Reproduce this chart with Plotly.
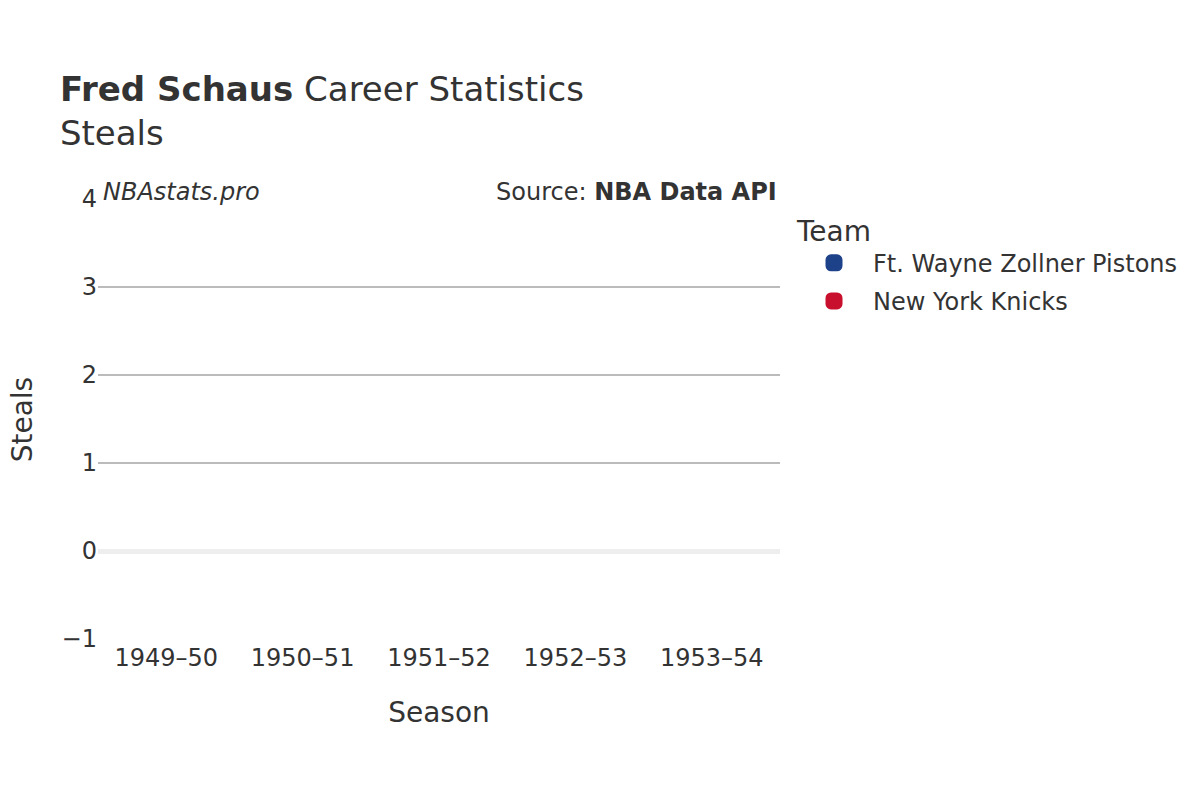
import plotly.graph_objects as go

seasons = ['1949–50', '1950–51', '1951–52', '1952–53', '1953–54']
teams = ['Ft. Wayne Zollner Pistons', 'New York Knicks']
team_colors = ['#1D428A', '#C8102E']
# steals were not tracked in these seasons, so nothing to plot
pistons_steals = [None, None, None, None, None]
knicks_steals = [None, None, None, None, None]

font = 'DejaVu Sans'

fig = go.Figure()
fig.add_trace(go.Bar(x=seasons, y=pistons_steals, name=teams[0], legendgroup='a',
                     marker=dict(color=team_colors[0], cornerradius=6,
                                 line=dict(color=team_colors[0], width=10))))
fig.add_trace(go.Bar(x=seasons, y=knicks_steals, name=teams[1], legendgroup='b',
                     marker=dict(color=team_colors[1], cornerradius=6,
                                 line=dict(color=team_colors[1], width=10))))

fig.update_layout(
    width=1200, height=800,
    paper_bgcolor='white', plot_bgcolor='white',
    font=dict(family=font, color='#333333', size=24),
    title=dict(text='<b>Fred Schaus</b> Career Statistics<br>Steals',
               x=0.0433, xanchor='left', y=0.884, yanchor='top',
               font=dict(size=34, color='#333333')),
    margin=dict(l=90, r=428, t=191, b=169),
    showlegend=True,
    legend=dict(title=dict(text='Team', font=dict(size=28)),
                font=dict(size=24), x=1.022, y=0.988, yanchor='top',
                itemwidth=68, tracegroupgap=4, traceorder='grouped'),
    xaxis=dict(title=dict(text='Season', font=dict(size=28), standoff=31),
               type='category', categoryorder='array', categoryarray=seasons,
               showgrid=False, ticks='', tickfont=dict(size=24),
               ticklabelstandoff=2, automargin=False),
    yaxis=dict(range=[-1, 4], dtick=1, showgrid=True, gridcolor='#bbbbbb',
               gridwidth=2, zeroline=True, zerolinecolor='#eeeeee',
               zerolinewidth=5, tickfont=dict(size=24), automargin=False),
)

# y axis title as an annotation so it can sit further left than plotly allows
fig.add_annotation(text='Steals', xref='paper', yref='paper',
                   x=-0.111, y=0.5, xanchor='center', yanchor='middle',
                   textangle=-90, showarrow=False,
                   font=dict(size=28, color='#333333'))
fig.add_annotation(text='<i>NBAstats.pro</i>', xref='paper', yref='paper',
                   x=0.005, y=1.016, xanchor='left', yanchor='middle',
                   showarrow=False, font=dict(size=24, color='#333333'))
fig.add_annotation(text='Source: <b>NBA Data API</b>', xref='paper', yref='paper',
                   x=0.998, y=1.016, xanchor='right', yanchor='middle',
                   showarrow=False, font=dict(size=24, color='#333333'))

fig.write_html('out.html')
